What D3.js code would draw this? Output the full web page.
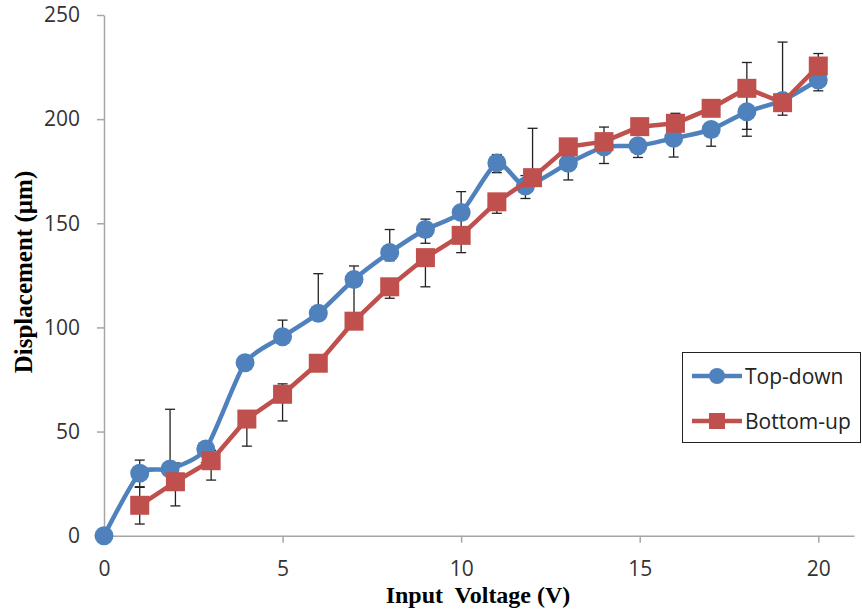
<!DOCTYPE html>
<html>
<head>
<meta charset="utf-8">
<script src="https://cdn.jsdelivr.net/npm/d3@7"></script>
<style>
  body { margin: 0; background: #fff; }
  svg { display: block; }
</style>
</head>
<body>
<div id="chart"></div>
<script>
// data
var seriesNames = ["Top-down", "Bottom-up"];

var topX   = [0, 1, 1.85, 2.85, 3.95, 5, 6, 7, 8, 9, 10, 11, 11.8, 13, 14, 14.95, 15.95, 17, 18, 19, 20];
var topY   = [0, 30, 32, 41.6, 83, 95.5, 106.8, 123, 136, 147, 155.2, 179, 167.9, 178.8, 186.7, 187.2, 190.8, 195, 203.5, 209, 218.8];
var topUp  = [0, 6.3, 28.7, 0, 0, 8, 19, 6.5, 11, 5, 10, 4, 5, 6, 0, 0, 0, 0, 0, 28, 0];
var topDn  = [0, 6.5, 0, 6.6, 0, 0, 0, 18, 4, 6.6, 10, 4.7, 6, 8, 8, 5.6, 9, 8, 8.4, 0, 5.2];

var botX   = [1, 2, 3, 4, 5, 6, 7, 8, 9, 10, 11, 12, 13, 14, 15, 16, 17, 18, 19, 20];
var botY   = [14.6, 25.9, 36, 56, 67.9, 82.8, 103, 119.5, 133.5, 144.2, 160.3, 171.9, 186.7, 189.2, 196.4, 198, 205.2, 214.8, 207.9, 225.5];
var botUp  = [8.6, 9, 5, 0, 5, 0, 0, 0, 0, 0, 0, 23.7, 0, 7, 0, 4.8, 0, 12.4, 0, 6];
var botDn  = [9, 11.6, 9.3, 13, 12.8, 0, 0, 5.5, 14, 8.3, 5.5, 0, 0, 0, 0, 0, 0, 23, 6, 0];

var xTicks = [0, 5, 10, 15, 20];
var yTicks = [0, 50, 100, 150, 200, 250];

var width = 862, height = 613;
var blue = "#4f81bd", red = "#c0504d";

var x = d3.scaleLinear().domain([0, 21]).range([104, 854]);
var y = d3.scaleLinear().domain([0, 250]).range([535.7, 15]);

var svg = d3.select("#chart").append("svg")
    .attr("width", width)
    .attr("height", height);

function pack(xs, ys, up, dn) {
    return xs.map(function(d, i) {
        return { x: d, y: ys[i], up: up[i], dn: dn[i] };
    });
}
var topData = pack(topX, topY, topUp, topDn);
var botData = pack(botX, botY, botUp, botDn);

// axes
var xAxis = svg.append("g")
    .attr("transform", "translate(0," + y(0) + ")")
    .call(d3.axisBottom(x).tickValues(xTicks).tickSize(7).tickPadding(18).tickSizeOuter(0));
var yAxis = svg.append("g")
    .attr("transform", "translate(" + x(0) + ",0)")
    .call(d3.axisLeft(y).tickValues(yTicks).tickSize(7).tickPadding(17).tickSizeOuter(0));

[xAxis, yAxis].forEach(function(g) {
    g.select(".domain").attr("stroke", "#a6a6a6").attr("stroke-width", 1.5);
    g.selectAll(".tick line").attr("stroke", "#a6a6a6").attr("stroke-width", 1.5);
    g.selectAll(".tick text")
        .attr("fill", "#333")
        .style("font-family", "'Open Sans', sans-serif")
        .style("font-size", "21px");
});

// axis titles
svg.append("text")
    .attr("x", 478)
    .attr("y", 603)
    .attr("text-anchor", "middle")
    .style("white-space", "pre")
    .style("font-family", "'Liberation Serif', serif")
    .style("font-weight", "bold")
    .style("font-size", "24px")
    .text("Input  Voltage (V)");

svg.append("text")
    .attr("transform", "translate(32,272) rotate(-90)")
    .attr("text-anchor", "middle")
    .style("font-family", "'Liberation Serif', serif")
    .style("font-weight", "bold")
    .style("font-size", "25px")
    .text("Displacement (µm)");

// error bars
function errorBars(data) {
    var g = svg.append("g").attr("stroke", "#222").attr("stroke-width", 1.3);
    data.forEach(function(d) {
        var cx = x(d.x);
        if (d.up > 0) {
            g.append("line").attr("x1", cx).attr("x2", cx).attr("y1", y(d.y)).attr("y2", y(d.y + d.up));
            g.append("line").attr("x1", cx - 5).attr("x2", cx + 5).attr("y1", y(d.y + d.up)).attr("y2", y(d.y + d.up));
        }
        if (d.dn > 0) {
            g.append("line").attr("x1", cx).attr("x2", cx).attr("y1", y(d.y)).attr("y2", y(d.y - d.dn));
            g.append("line").attr("x1", cx - 5).attr("x2", cx + 5).attr("y1", y(d.y - d.dn)).attr("y2", y(d.y - d.dn));
        }
    });
}
errorBars(topData);
errorBars(botData);

// top-down: smoothed line with circles
var smooth = d3.line().x(function(d) { return x(d.x); }).y(function(d) { return y(d.y); })
    .curve(d3.curveCardinal.tension(0.35));
var straight = d3.line().x(function(d) { return x(d.x); }).y(function(d) { return y(d.y); });

svg.append("path")
    .datum(topData)
    .attr("d", smooth)
    .attr("fill", "none")
    .attr("stroke", blue)
    .attr("stroke-width", 4.5)
    .attr("stroke-linejoin", "round");

svg.append("g")
    .selectAll("circle")
    .data(topData)
    .enter()
    .append("circle")
    .attr("cx", function(d) { return x(d.x); })
    .attr("cy", function(d) { return y(d.y); })
    .attr("r", 9.5)
    .style("fill", blue);

// bottom-up: straight line with squares
svg.append("path")
    .datum(botData)
    .attr("d", straight)
    .attr("fill", "none")
    .attr("stroke", red)
    .attr("stroke-width", 4.5)
    .attr("stroke-linejoin", "round");

svg.append("g")
    .selectAll("rect")
    .data(botData)
    .enter()
    .append("rect")
    .attr("x", function(d) { return x(d.x) - 9.5; })
    .attr("y", function(d) { return y(d.y) - 9.5; })
    .attr("width", 19)
    .attr("height", 19)
    .style("fill", red);

// legend
var legend = svg.append("g");
legend.append("rect")
    .attr("x", 682.5)
    .attr("y", 352.5)
    .attr("width", 178)
    .attr("height", 90)
    .attr("fill", "#fff")
    .attr("stroke", "#222")
    .attr("stroke-width", 1);

var legendRows = [
    { name: seriesNames[0], color: blue, shape: "circle", cy: 376 },
    { name: seriesNames[1], color: red, shape: "square", cy: 421 }
];
legendRows.forEach(function(r) {
    legend.append("line")
        .attr("x1", 692).attr("x2", 742)
        .attr("y1", r.cy).attr("y2", r.cy)
        .attr("stroke", r.color).attr("stroke-width", 4.5);
    if (r.shape == "circle") {
        legend.append("circle").attr("cx", 717).attr("cy", r.cy).attr("r", 8).style("fill", r.color);
    } else {
        legend.append("rect").attr("x", 709).attr("y", r.cy - 8).attr("width", 16).attr("height", 16).style("fill", r.color);
    }
    legend.append("text")
        .attr("x", 745)
        .attr("y", r.cy + 7.5)
        .style("font-family", "'Open Sans', sans-serif")
        .style("font-size", "21px")
        .attr("fill", "#222")
        .text(r.name);
});
</script>
</body>
</html>
